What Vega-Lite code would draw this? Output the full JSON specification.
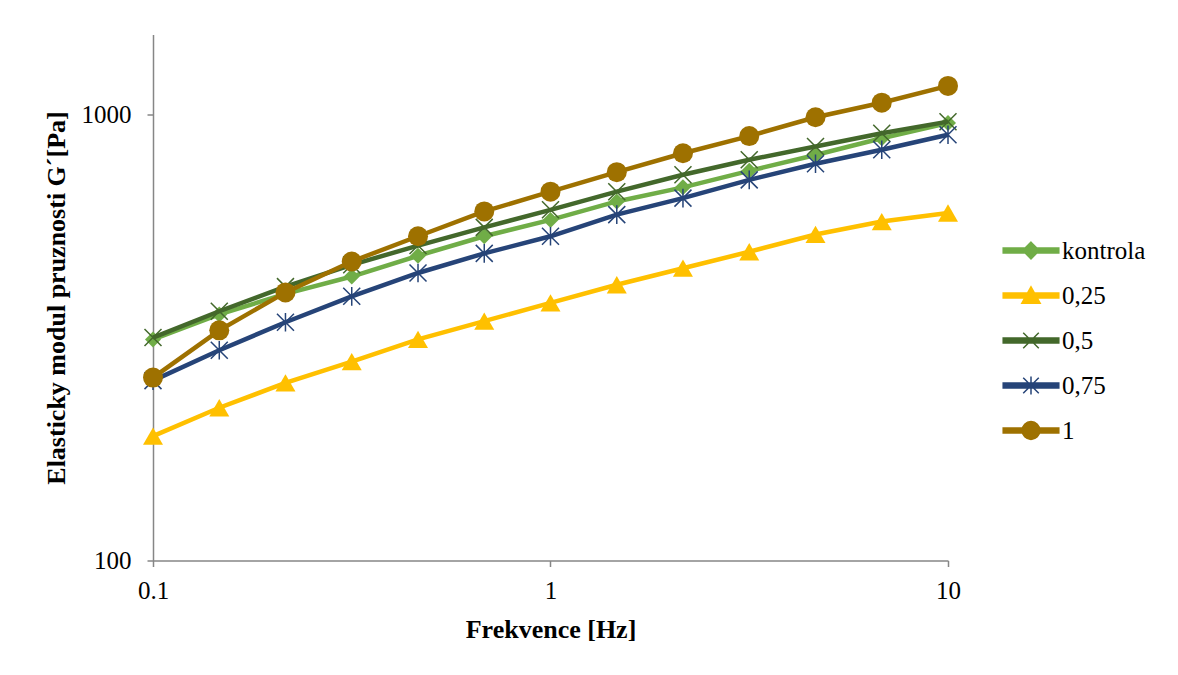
{
  "$schema": "https://vega.github.io/schema/vega-lite/v6.json",
  "width": 795,
  "height": 526,
  "autosize": {"type": "none"},
  "padding": {"left": 153, "top": 34.5, "right": 230, "bottom": 114.5},
  "background": "white",
  "config": {"view": {"stroke": null}, "font": "Liberation Serif, Tinos, Times New Roman, serif"},
  "data": {
    "values": [
      {"f": 0.1, "series": "kontrola", "g": 313},
      {"f": 0.1468, "series": "kontrola", "g": 356},
      {"f": 0.2154, "series": "kontrola", "g": 396},
      {"f": 0.3162, "series": "kontrola", "g": 433},
      {"f": 0.4642, "series": "kontrola", "g": 482},
      {"f": 0.6813, "series": "kontrola", "g": 533},
      {"f": 1, "series": "kontrola", "g": 580},
      {"f": 1.468, "series": "kontrola", "g": 638},
      {"f": 2.154, "series": "kontrola", "g": 686},
      {"f": 3.162, "series": "kontrola", "g": 747},
      {"f": 4.642, "series": "kontrola", "g": 811},
      {"f": 6.813, "series": "kontrola", "g": 884},
      {"f": 10, "series": "kontrola", "g": 956},
      {"f": 0.1, "series": "0,25", "g": 190},
      {"f": 0.1468, "series": "0,25", "g": 220},
      {"f": 0.2154, "series": "0,25", "g": 250},
      {"f": 0.3162, "series": "0,25", "g": 279},
      {"f": 0.4642, "series": "0,25", "g": 313},
      {"f": 0.6813, "series": "0,25", "g": 344},
      {"f": 1, "series": "0,25", "g": 378},
      {"f": 1.468, "series": "0,25", "g": 415},
      {"f": 2.154, "series": "0,25", "g": 452},
      {"f": 3.162, "series": "0,25", "g": 492},
      {"f": 4.642, "series": "0,25", "g": 538},
      {"f": 6.813, "series": "0,25", "g": 575},
      {"f": 10, "series": "0,25", "g": 601},
      {"f": 0.1, "series": "0,5", "g": 316},
      {"f": 0.1468, "series": "0,5", "g": 362},
      {"f": 0.2154, "series": "0,5", "g": 411},
      {"f": 0.3162, "series": "0,5", "g": 460},
      {"f": 0.4642, "series": "0,5", "g": 508},
      {"f": 0.6813, "series": "0,5", "g": 558},
      {"f": 1, "series": "0,5", "g": 611},
      {"f": 1.468, "series": "0,5", "g": 671},
      {"f": 2.154, "series": "0,5", "g": 732},
      {"f": 3.162, "series": "0,5", "g": 791},
      {"f": 4.642, "series": "0,5", "g": 847},
      {"f": 6.813, "series": "0,5", "g": 907},
      {"f": 10, "series": "0,5", "g": 963},
      {"f": 0.1, "series": "0,75", "g": 253},
      {"f": 0.1468, "series": "0,75", "g": 296},
      {"f": 0.2154, "series": "0,75", "g": 342},
      {"f": 0.3162, "series": "0,75", "g": 391},
      {"f": 0.4642, "series": "0,75", "g": 441},
      {"f": 0.6813, "series": "0,75", "g": 488},
      {"f": 1, "series": "0,75", "g": 533},
      {"f": 1.468, "series": "0,75", "g": 596},
      {"f": 2.154, "series": "0,75", "g": 649},
      {"f": 3.162, "series": "0,75", "g": 713},
      {"f": 4.642, "series": "0,75", "g": 775},
      {"f": 6.813, "series": "0,75", "g": 833},
      {"f": 10, "series": "0,75", "g": 900},
      {"f": 0.1, "series": "1", "g": 257},
      {"f": 0.1468, "series": "1", "g": 328},
      {"f": 0.2154, "series": "1", "g": 399},
      {"f": 0.3162, "series": "1", "g": 468},
      {"f": 0.4642, "series": "1", "g": 533},
      {"f": 0.6813, "series": "1", "g": 606},
      {"f": 1, "series": "1", "g": 671},
      {"f": 1.468, "series": "1", "g": 742},
      {"f": 2.154, "series": "1", "g": 818},
      {"f": 3.162, "series": "1", "g": 894},
      {"f": 4.642, "series": "1", "g": 985},
      {"f": 6.813, "series": "1", "g": 1062},
      {"f": 10, "series": "1", "g": 1158}
    ]
  },
  "encoding": {
    "x": {
      "field": "f",
      "type": "quantitative",
      "scale": {"type": "log", "domain": [0.1, 10], "nice": false},
      "axis": {
        "values": [0.1, 1, 10],
        "format": "~g",
        "grid": false,
        "labelFont": "Liberation Serif, Tinos, Times New Roman, serif",
        "labelFontSize": 25,
        "labelColor": "black",
        "labelFlush": false,
        "labelPadding": 12,
        "tickSize": 6,
        "tickColor": "#868686",
        "tickWidth": 1.5,
        "domainColor": "#868686",
        "domainWidth": 1.5,
        "title": "Frekvence [Hz]",
        "titleFont": "Liberation Serif, Tinos, Times New Roman, serif",
        "titleFontSize": 26,
        "titleFontWeight": "bold",
        "titleColor": "black",
        "titlePadding": 13
      }
    },
    "y": {
      "field": "g",
      "type": "quantitative",
      "scale": {"type": "log", "domain": [100, 1510], "nice": false},
      "axis": {
        "values": [100, 1000],
        "format": "d",
        "grid": false,
        "labelFont": "Liberation Serif, Tinos, Times New Roman, serif",
        "labelFontSize": 25,
        "labelColor": "black",
        "labelFlush": false,
        "labelPadding": 16,
        "tickSize": 6,
        "tickColor": "#868686",
        "tickWidth": 1.5,
        "domainColor": "#868686",
        "domainWidth": 1.5,
        "title": "Elasticky modul pruznosti G´[Pa]",
        "titleFont": "Liberation Serif, Tinos, Times New Roman, serif",
        "titleFontSize": 26,
        "titleFontWeight": "bold",
        "titleColor": "black",
        "titlePadding": 12
      }
    },
    "color": {
      "field": "series",
      "type": "nominal",
      "scale": {
        "domain": ["kontrola", "0,25", "0,5", "0,75", "1"],
        "range": ["#70AD47", "#FFC000", "#43682B", "#264478", "#9E7100"]
      },
      "legend": {
        "orient": "none",
        "legendX": 849,
        "legendY": 187,
        "title": null,
        "padding": 0,
        "symbolSize": 3091,
        "symbolStrokeWidth": 1.5,
        "labelOffset": 2,
        "rowPadding": 3,
        "labelFont": "Liberation Serif, Tinos, Times New Roman, serif",
        "labelFontSize": 25,
        "labelColor": "black",
        "encode": {
          "symbols": {
            "update": {
              "shape": {"signal": "datum.value === 'kontrola' ? 'M-1,-0.09L1,-0.09L1,0.09L-1,0.09Z M0,-0.3L0.3,0L0,0.3L-0.3,0Z' : datum.value === '0,25' ? 'M-1,-0.09L1,-0.09L1,0.09L-1,0.09Z M0,-0.31L0.33,0.28L-0.33,0.28Z' : datum.value === '0,5' ? 'M-1,-0.09L1,-0.09L1,0.09L-1,0.09Z M-0.28,-0.28L0.28,0.28M0.28,-0.28L-0.28,0.28' : datum.value === '0,75' ? 'M-1,-0.09L1,-0.09L1,0.09L-1,0.09Z M-0.28,-0.28L0.28,0.28M0.28,-0.28L-0.28,0.28M0,-0.32L0,0.32' : 'M-1,-0.09L1,-0.09L1,0.09L-1,0.09Z M0.32,0A0.32,0.32,0,1,1,-0.32,0A0.32,0.32,0,1,1,0.32,0Z'"},
              "fill": {"signal": "datum.value === 'kontrola' ? '#70AD47' : datum.value === '0,25' ? '#FFC000' : datum.value === '0,5' ? '#43682B' : datum.value === '0,75' ? '#264478' : '#9E7100'"},
              "stroke": {"signal": "datum.value === 'kontrola' ? '#70AD47' : datum.value === '0,25' ? '#FFC000' : datum.value === '0,5' ? '#43682B' : datum.value === '0,75' ? '#264478' : '#9E7100'"},
              "strokeWidth": {"value": 1.5},
              "size": {"value": 3091},
              "opacity": {"value": 1}
            }
          }
        }
      }
    }
  },
  "layer": [
    {"transform": [{"filter": "datum.series === 'kontrola'"}], "mark": {"type": "line", "strokeWidth": 4.5}},
    {"transform": [{"filter": "datum.series === 'kontrola'"}], "mark": {"type": "point", "shape": "diamond", "filled": true, "size": 256, "opacity": 1}},
    {"transform": [{"filter": "datum.series === '0,25'"}], "mark": {"type": "line", "strokeWidth": 4.5}},
    {"transform": [{"filter": "datum.series === '0,25'"}], "mark": {"type": "point", "shape": "triangle-up", "filled": true, "size": 400, "opacity": 1}},
    {"transform": [{"filter": "datum.series === '0,5'"}], "mark": {"type": "line", "strokeWidth": 4.5}},
    {"transform": [{"filter": "datum.series === '0,5'"}], "mark": {"type": "point", "shape": "M-1,-1L1,1M1,-1L-1,1", "filled": false, "size": 289, "strokeWidth": 1.5, "opacity": 1}},
    {"transform": [{"filter": "datum.series === '0,75'"}], "mark": {"type": "line", "strokeWidth": 4.5}},
    {"transform": [{"filter": "datum.series === '0,75'"}], "mark": {"type": "point", "shape": "M-1,-1L1,1M1,-1L-1,1M0,-1.1L0,1.1", "filled": false, "size": 289, "strokeWidth": 1.5, "opacity": 1}},
    {"transform": [{"filter": "datum.series === '1'"}], "mark": {"type": "line", "strokeWidth": 4.5}},
    {"transform": [{"filter": "datum.series === '1'"}], "mark": {"type": "point", "shape": "circle", "filled": true, "size": 400, "opacity": 1}}
  ]
}
